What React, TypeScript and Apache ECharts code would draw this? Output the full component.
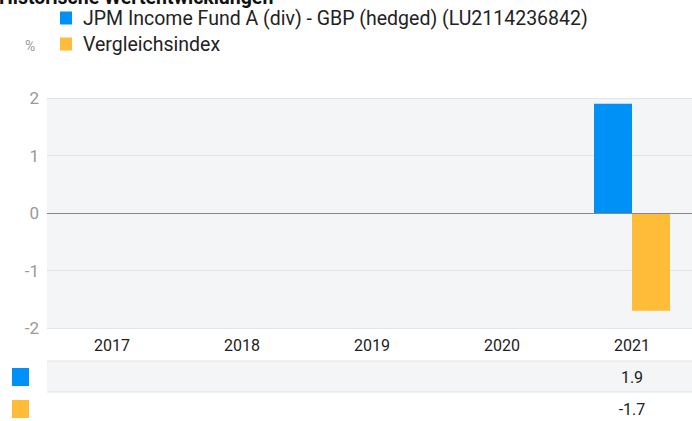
import React, { useEffect, useRef } from "react";
import * as echarts from "echarts";

const titleText = "Historische Wertentwicklungen";
const categories = ["2017", "2018", "2019", "2020", "2021"];
const seriesNames = ["JPM Income Fund A (div) - GBP (hedged) (LU2114236842)", "Vergleichsindex"];
const fundValues: (number | null)[] = [null, null, null, null, 1.9];
const indexValues: (number | null)[] = [null, null, null, null, -1.7];
const colors = ["#0091f7", "#ffbc38"];
const yMin = -2;
const yMax = 2;
const yInterval = 1;
const unitLabel = "%";

const FONT = "Roboto, 'Liberation Sans', Arial, sans-serif";

export default function App() {
  const ref = useRef<HTMLDivElement>(null);
  useEffect(() => {
    if (!ref.current) return;
    const chart = echarts.init(ref.current, undefined, { renderer: "svg" });
    chart.setOption({
      animation: false,
      textStyle: { fontFamily: FONT },
      grid: {
        left: 47,
        width: 650,
        top: 98,
        height: 230,
        outerBoundsMode: "none",
        containLabel: false,
        show: true,
        backgroundColor: "#f4f5f7",
        borderWidth: 0,
      },
      legend: {
        orient: "vertical",
        left: 55,
        top: 2,
        itemWidth: 12,
        itemHeight: 13,
        itemGap: 4,
        icon: "rect",
        textStyle: { fontSize: 19.5, color: "#222", fontFamily: FONT, padding: [0, 0, 0, 6], lineHeight: 22 },
        data: seriesNames,
      },
      xAxis: {
        type: "category",
        data: categories,
        axisLine: { show: false },
        axisTick: { show: false },
        axisLabel: { color: "#222", fontSize: 16, margin: 9, fontFamily: FONT },
        splitLine: { show: false },
      },
      yAxis: {
        type: "value",
        min: yMin,
        max: yMax,
        interval: yInterval,
        axisLine: { show: false },
        axisTick: { show: false },
        axisLabel: { color: "#999", fontSize: 17, margin: 8, fontFamily: FONT },
        splitLine: { lineStyle: { color: "#e3e4e6", width: 1 } },
      },
      series: [
        {
          name: seriesNames[0],
          type: "bar",
          data: fundValues,
          barWidth: 38,
          barGap: "0%",
          itemStyle: { color: colors[0] },
          markLine: {
            silent: true,
            symbol: "none",
            label: { show: false },
            lineStyle: { color: "#888", width: 1, type: "solid" },
            data: [{ yAxis: 0 }],
          },
        },
        {
          name: seriesNames[1],
          type: "bar",
          data: indexValues,
          barWidth: 38,
          barGap: "0%",
          itemStyle: { color: colors[1] },
        },
      ],
    });

    const rowY = [377, 409];
    const rows = [fundValues, indexValues];
    const graphics: any[] = [
      {
        type: "text",
        left: -1,
        top: -13,
        style: { text: titleText, fontSize: 19.5, fontWeight: "bold", fill: "#111", fontFamily: FONT },
      },
      {
        type: "text",
        x: 25,
        y: 46,
        style: { text: unitLabel, fontSize: 14, fill: "#999", fontFamily: FONT, textVerticalAlign: "middle" },
      },
      { type: "rect", shape: { x: 47, y: 361, width: 700, height: 31 }, style: { fill: "#f4f5f7" }, z: 0 },
      { type: "line", shape: { x1: 47, y1: 361, x2: 700, y2: 361 }, style: { stroke: "#e2e2e2", lineWidth: 1 } },
      { type: "line", shape: { x1: 47, y1: 392, x2: 700, y2: 392 }, style: { stroke: "#e2e2e2", lineWidth: 1 } },
    ];
    rows.forEach((vals, r) => {
      graphics.push({
        type: "rect",
        shape: { x: 12, y: rowY[r] - 9, width: 17, height: 18 },
        style: { fill: colors[r] },
      });
      vals.forEach((v, i) => {
        if (v == null) return;
        const x = chart.convertToPixel({ xAxisIndex: 0 }, i) as number;
        graphics.push({
          type: "text",
          x,
          y: rowY[r],
          style: {
            text: v.toFixed(1),
            fontSize: 16,
            fill: "#222",
            fontFamily: FONT,
            textAlign: "center",
            textVerticalAlign: "middle",
          },
        });
      });
    });
    chart.setOption({ graphic: graphics });
    return () => chart.dispose();
  }, []);
  return <div ref={ref} style={{ width: 692, height: 421, position: "absolute", left: 0, top: 0 }} />;
}
